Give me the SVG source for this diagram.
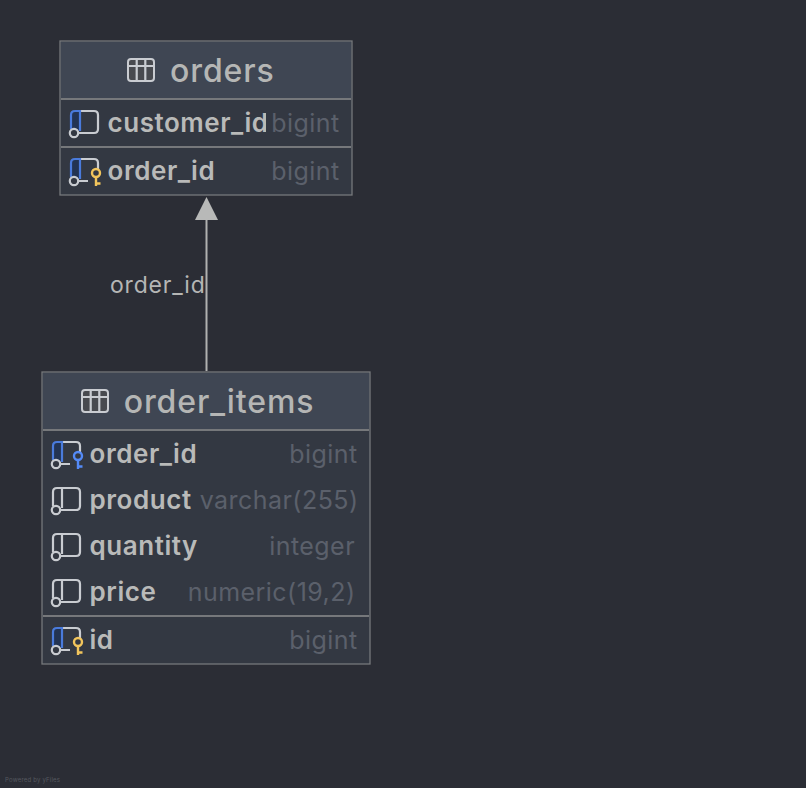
<svg xmlns="http://www.w3.org/2000/svg" width="806" height="788" viewBox="0 0 806 788">
<style>
text{font-family:Inter,"Noto Sans",sans-serif}
.box{fill:#333842;stroke:#76787b;stroke-width:1.300}
.hd{fill:#3f4653}
.sep{stroke:#76787b;stroke-width:2;fill:none}
.title{font-size:32px;font-weight:500;fill:#b5b6b5;letter-spacing:.9px}
.name{font-size:26px;font-weight:600;fill:#b9bab9;letter-spacing:.55px}
.type{font-size:25px;fill:#5b606b;letter-spacing:.45px;text-anchor:end}
.lb{font-size:23px;fill:#b5b6b5;letter-spacing:.8px}
.st{fill:none;stroke:#c9ccd1;stroke-width:2.200}
.k{fill:none;stroke-width:2.400}
</style>
<defs>
<g id="tbl"><rect x="1" y="1" width="26" height="22" rx="3" fill="#484a4f" stroke="#c9ccd1" stroke-width="2"/><path d="M1 8H27M9.700 1V23M18.300 1V23" class="st" stroke-width="2"/></g>
<g id="frame"><path d="M11 1H25Q29 1 29 5V19Q29 23 25 23H9" class="st"/></g>
<g id="framek"><path d="M11 1H25Q29 1 29 5V11M9 23H19" class="st"/></g>
<g id="blue"><path d="M2 19V5Q2 1 6 1H11V21" fill="#233453" stroke="#4a7bdc" stroke-width="2.200"/></g>
<g id="gray"><path d="M2 19V5Q2 1 6 1H11V21" fill="none" class="st"/></g>
<g id="dot"><circle cx="5" cy="23" r="4.200" fill="#333842" stroke="#c9ccd1" stroke-width="2.200"/></g>
<g id="col"><use href="#frame"/><use href="#blue"/><use href="#dot"/></g>
<g id="plain"><use href="#frame"/><use href="#gray"/><use href="#dot"/></g>
<g id="colk"><use href="#framek"/><use href="#blue"/><use href="#dot"/></g>
<g id="kY" class="k" stroke="#f2c55c"><circle cx="27" cy="15" r="4"/><path d="M27 19V28M27 25.500H31.500"/></g>
<g id="kB" class="k" stroke="#548af7"><circle cx="27" cy="15" r="4"/><path d="M27 19V28M27 25.500H31.500"/></g>
<clipPath id="c1"><rect x="100" y="100" width="166" height="46"/></clipPath>
</defs>
<rect width="806" height="788" fill="#2b2d35"/>
<g id="connectors">
<path d="M206.500 371V215" stroke="#b0b1b0" stroke-width="2" fill="none"/>
<path d="M206.500 197L218 220H195Z" fill="#b8b9b8"/>
<text class="lb" x="110" y="293">order_id</text>
</g>
<g id="orders">
<rect class="box" x="60" y="41" width="292" height="154"/>
<rect class="hd" x="61" y="42" width="290" height="57"/>
<path class="sep" d="M61 99H351M61 147H351"/>
<use href="#tbl" x="127" y="58"/>
<text class="title" x="170" y="82">orders</text>
<use href="#col" x="69" y="110"/>
<text class="name" x="107.500" y="132" clip-path="url(#c1)">customer_id</text>
<text class="type" x="339.700" y="132">bigint</text>
<use href="#colk" x="69" y="158"/><use href="#kY" x="69" y="158"/>
<text class="name" x="107.500" y="180">order_id</text>
<text class="type" x="339.700" y="180">bigint</text>
</g>
<g id="order_items">
<rect class="box" x="42" y="372" width="328" height="292"/>
<rect class="hd" x="43" y="373" width="326" height="57"/>
<path class="sep" d="M43 430H369M43 616H369"/>
<use href="#tbl" x="81" y="389"/>
<text class="title" x="123.700" y="413">order_items</text>
<use href="#colk" x="51" y="441"/><use href="#kB" x="51" y="441"/>
<text class="name" x="89.500" y="463">order_id</text>
<text class="type" x="357.700" y="463">bigint</text>
<use href="#plain" x="51" y="487"/>
<text class="name" x="89.500" y="509">product</text>
<text class="type" x="358.500" y="509">varchar(255)</text>
<use href="#plain" x="51" y="533"/>
<text class="name" x="89.500" y="555">quantity</text>
<text class="type" x="355" y="555">integer</text>
<use href="#plain" x="51" y="579"/>
<text class="name" x="89.500" y="601">price</text>
<text class="type" x="355.500" y="601">numeric(19,2)</text>
<use href="#colk" x="51" y="627"/><use href="#kY" x="51" y="627"/>
<text class="name" x="89.500" y="649">id</text>
<text class="type" x="357.700" y="649">bigint</text>
</g>
<text x="5" y="782" font-size="6" fill="#55585f" letter-spacing=".2">Powered by yFiles</text>
</svg>
